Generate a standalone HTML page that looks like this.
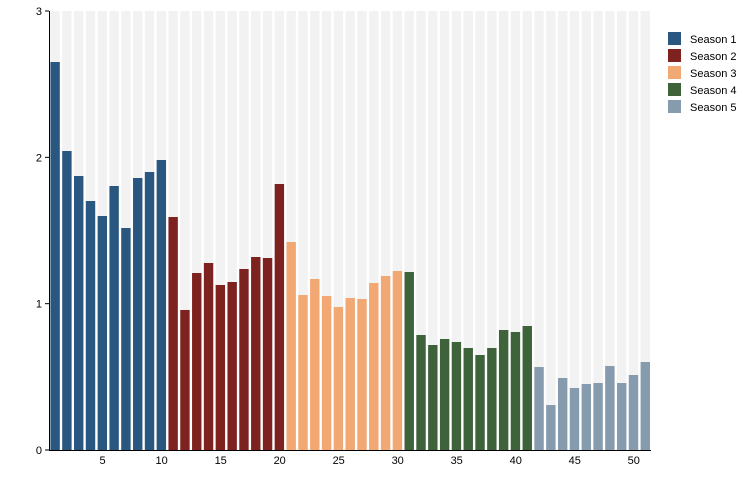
<!DOCTYPE html>
<html><head><style>body{margin:0;background:#fff}svg{display:block;font-family:"Liberation Sans",sans-serif}</style></head>
<body>
<svg id="s" width="750" height="500" xmlns="http://www.w3.org/2000/svg">
</svg>
<script>
var tops=[62,151,176,201,216,186,228,178,172,160,217,310,273,263,285,282,269,257,258,184,242,295,279,296,307,298,299,283,276,271,272,335,345,339,342,348,355,348,330,332,326,367,405,378,388,384,383,366,383,375,362];
var cols=["#2a5780","#7e2220","#f2a873","#3e623a","#869cae"];
function season(i){return i<10?0:i<20?1:i<30?2:i<41?3:4;}
var s='',bw=602/51;
for(var i=0;i<51;i++){var x=49.5+i*bw+0.9;
s+='<rect x="'+x.toFixed(2)+'" y="11" width="'+(bw-2.4).toFixed(2)+'" height="439" fill="#f2f2f2"/>';
s+='<rect x="'+x.toFixed(2)+'" y="'+tops[i]+'" width="'+(bw-2.4).toFixed(2)+'" height="'+(450-tops[i])+'" fill="'+cols[season(i)]+'"/>';}
s+='<line x1="49.5" y1="11" x2="49.5" y2="450" stroke="#000"/><line x1="49" y1="450.5" x2="651" y2="450.5" stroke="#000"/>';
for(var v=0;v<=3;v++){var y=450-v*146.33;s+='<line x1="45" x2="49" y1="'+y+'" y2="'+y+'" stroke="#000"/><text x="42" y="'+(y+4)+'" font-size="11" text-anchor="end">'+v+'</text>';}
for(var k=5;k<=50;k+=5){var cx=49.5+(k-0.5)*bw;s+='<text x="'+cx.toFixed(1)+'" y="464" font-size="11" text-anchor="middle">'+k+'</text>';}
for(var j=0;j<5;j++){s+='<rect x="668" y="'+(32+j*17)+'" width="13" height="13" fill="'+cols[j]+'"/><text x="690" y="'+(43+j*17)+'" font-size="11">Season '+(j+1)+'</text>';}
document.getElementById('s').innerHTML=s;
</script>
</body></html>
